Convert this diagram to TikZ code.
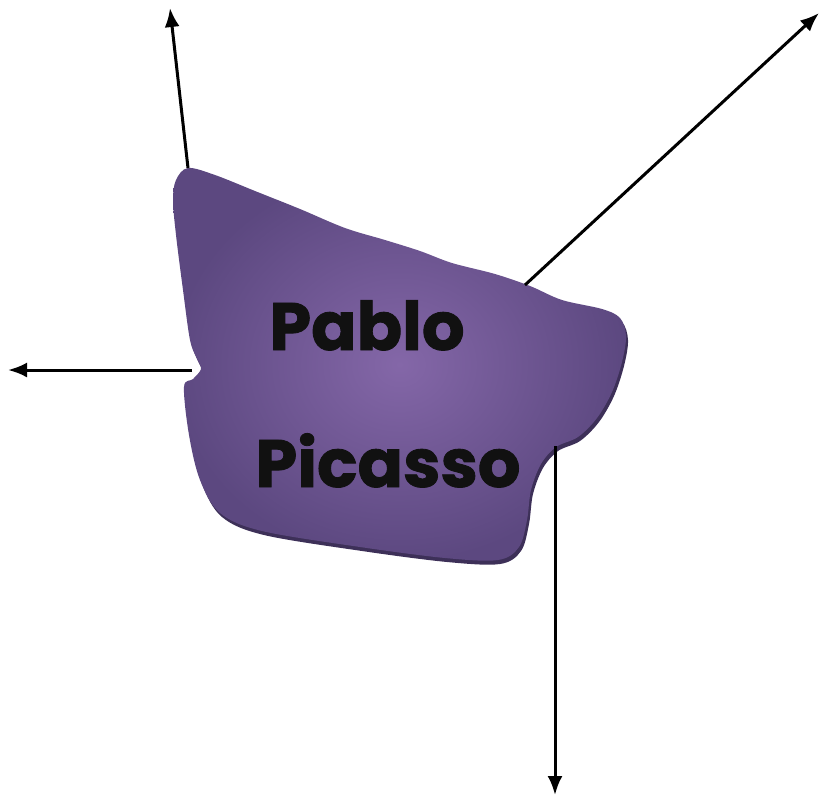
\documentclass[tikz,border=0pt]{standalone}
\usepackage{fontspec}
\newfontfamily\blobfont[FakeBold=1.3]{Poppins}
\usepackage{tikz}
\usetikzlibrary{positioning,calc,arrows.meta}

\definecolor{blobmid}{HTML}{8467A8}
\definecolor{blobedge}{HTML}{5C4880}
\definecolor{blobshadow}{HTML}{3D3058}
\definecolor{blobtext}{HTML}{111111}

% outline of the purple patch (pixel units, y down)
\newcommand{\picassoblob}{plot[smooth cycle, tension=0.55] coordinates {
  (176,180) (188,168) (215,175) (255,191) (300,209) (345,228) (385,240)
  (420,251) (452,263) (495,274) (530,286) (562,300) (602,309) (620,318)
  (626,336) (622,362) (612,392) (597,418) (578,437) (556,447) (541,464)
  (531,490) (527,520) (519,547) (498,560) (445,558) (360,547) (262,531)
  (220,513) (200,480) (189,435) (184,387) (193,379) (201,369) (197,359)
  (190,340) (183,290) (176,235) (173,200)}}

\begin{document}
\begin{tikzpicture}[x=1pt, y=-1pt,
  arr/.style={line width=3pt, -{Latex[length=19pt,width=15pt]}},
  bigname/.style={text=blobtext, anchor=base, inner sep=0pt,
    font=\blobfont\bfseries\fontsize{67}{72}\selectfont}]
  \useasboundingbox (0,0) rectangle (821,801);

  % patch with its shadow
  \fill[blobshadow, shift={(2,4)}] \picassoblob;
  \shade[inner color=blobmid, outer color=blobedge] \picassoblob;

  \node[bigname] (pablo) at (367,350) {Pablo};
  \node[bigname] (picasso) at (388,487) {Picasso};

  % arrow ends
  \coordinate (topstart) at (188,168);
  \coordinate (toptip) at (170,8);
  \coordinate (nestart) at (525,285);
  \coordinate (netip) at (819,13);
  \coordinate (wstart) at (192,370);
  \coordinate (wtip) at (8,370);
  \coordinate (sstart) at (555,446);
  \coordinate (stip) at (555,795);

  \draw[arr] (topstart) -- (toptip);
  \draw[arr] (nestart) -- (netip);
  \draw[arr] (wstart) -- (wtip);
  \draw[arr] (sstart) -- (stip);
\end{tikzpicture}
\end{document}
